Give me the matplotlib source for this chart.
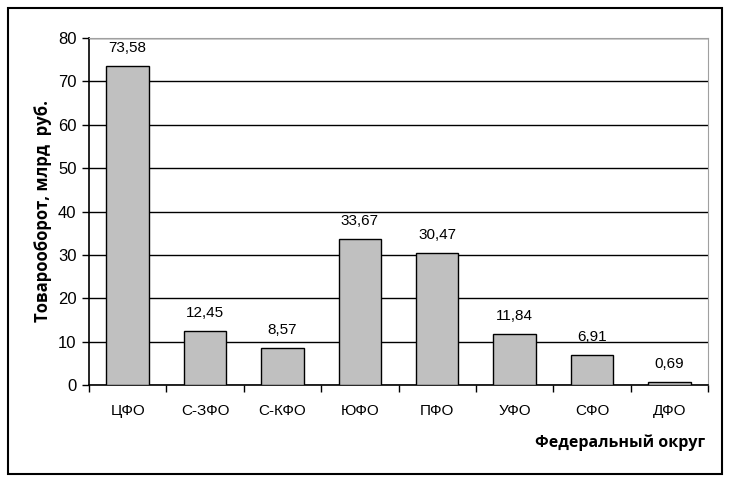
import numpy as np
import matplotlib.pyplot as plt
from matplotlib.patches import Rectangle

okruga = ['ЦФО', 'С-ЗФО', 'С-КФО', 'ЮФО', 'ПФО', 'УФО', 'СФО', 'ДФО']
oborot = [73.58, 12.45, 8.57, 33.67, 30.47, 11.84, 6.91, 0.69]
podpisi = ['73,58', '12,45', '8,57', '33,67', '30,47', '11,84', '6,91', '0,69']

W, H = 733, 484
fig = plt.figure(figsize=(W / 100, H / 100), dpi=100)
fig.patch.set_facecolor('white')

# outer frame
fig.patches.append(Rectangle((8 / W, 1 - 474 / H), (722 - 8) / W, (474 - 8) / H,
                             transform=fig.transFigure, fill=False,
                             edgecolor='black', lw=1.5))

ax = fig.add_axes([89 / W, 1 - 385 / H, (708 - 89) / W, (385 - 38) / H])
x = np.arange(len(okruga))
ax.bar(x, oborot, width=0.55, color='#c0c0c0', edgecolor='black', lw=1, zorder=3)

ax.set_xlim(-0.5, len(okruga) - 0.5)
ax.set_ylim(0, 80)
ax.set_yticks(np.arange(0, 81, 10))
ax.yaxis.grid(True, color='black', lw=1)
ax.set_axisbelow(True)

for s in ['top', 'right']:
    ax.spines[s].set_color('#a0a0a0')
for s in ['left', 'bottom']:
    ax.spines[s].set_color('black')
    ax.spines[s].set_linewidth(1.2)

tfont = dict(family='Liberation Sans', size=11)
ax.set_xticks(x)
ax.set_xticklabels(okruga, **tfont)
ax.set_xticks(np.arange(-0.5, len(okruga), 1), minor=True)
ax.tick_params(axis='x', which='major', length=0, pad=14)
ax.tick_params(axis='x', which='minor', length=5, direction='out', width=1)
ax.tick_params(axis='y', length=5, direction='out', width=1, pad=4)
for t in ax.get_yticklabels():
    t.set_fontfamily('Liberation Sans')
    t.set_fontsize(12)

for xi, v, s in zip(x, oborot, podpisi):
    ax.annotate(s, (xi, v), xytext=(0, 8), textcoords='offset points',
                ha='center', va='bottom', **tfont)

ax.set_ylabel('Товарооборот, млрд  руб.', family='Open Sans', fontweight='bold',
              fontsize=12, labelpad=4)
fig.text(705 / W, 1 - 443 / H, 'Федеральный округ', ha='right', va='center',
         family='Open Sans', fontweight='bold', fontsize=11.5)

fig.savefig('out.png', dpi=100)
